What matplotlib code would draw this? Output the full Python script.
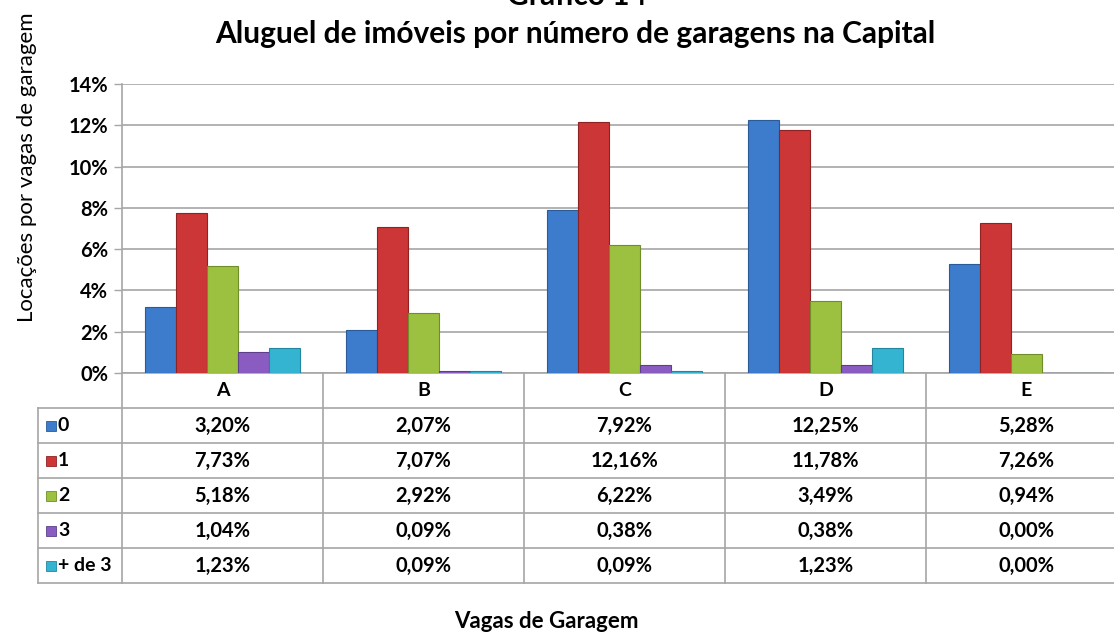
""" Grafico 14 - aluguel de imoveis por numero de garagens """

import matplotlib
matplotlib.use("Agg")
import matplotlib.pyplot as plt
import matplotlib.transforms as mtransforms
from matplotlib.patches import Rectangle
import numpy as np

plt.rcParams['font.family'] = ['Lato', 'DejaVu Sans']

regions = ["A", "B", "C", "D", "E"]
series  = ["0", "1", "2", "3", "+ de 3"]
vagas_0     = [3.20, 2.07, 7.92, 12.25, 5.28]
vagas_1     = [7.73, 7.07, 12.16, 11.78, 7.26]
vagas_2     = [5.18, 2.92, 6.22, 3.49, 0.94]
vagas_3     = [1.04, 0.09, 0.38, 0.38, 0.00]
vagas_mais3 = [1.23, 0.09, 0.09, 1.23, 0.00]
values = [vagas_0, vagas_1, vagas_2, vagas_3, vagas_mais3]
colors = ["#3d7ccc", "#cc3636", "#9cc140", "#8a5cc2", "#35b4d2"]
edges  = ["#2a5a99", "#8f2222", "#6f8e2a", "#5e3f8a", "#2386a0"]

W, H = 1114, 633
fig = plt.figure(figsize=(W / 100, H / 100), dpi=100)

# plot area in pixels (right side is cut off in the original)
left, right, top, bottom = 122, 1127, 84, 373
ax = fig.add_axes([left / W, 1 - bottom / H, (right - left) / W, (bottom - top) / H])

x = np.arange(len(regions))
bw = 0.154
for i, (vals, c, ec) in enumerate(zip(values, colors, edges)):
    offs = (i - 2) * bw
    ax.bar(x + offs, vals, width=bw, color=c, edgecolor=ec, linewidth=0.8, zorder=3)

ax.set_xlim(-0.5, len(regions) - 0.5)
ax.set_ylim(0, 14)
ax.set_yticks(range(0, 15, 2))
ax.set_yticklabels(["%d%%" % v for v in range(0, 15, 2)], fontsize=14.5, fontweight="bold")
ax.yaxis.grid(True, color="#a6a6a6", linewidth=1.2, zorder=0)
ax.tick_params(axis="y", length=6, color="#a6a6a6", width=1, pad=4)
ax.set_xticks([])
for s in ["top", "right", "bottom"]:
    ax.spines[s].set_visible(False)
ax.spines["left"].set_color("#a6a6a6")
ax.spines["left"].set_linewidth(1.2)

# data table below the axis
trans = mtransforms.blended_transform_factory(ax.transData, ax.transAxes)
ph = bottom - top
def fy(py):
    return -(py - bottom) / ph

leg_left = -0.5 - (left - 38) / 201.0
row_edges = [373, 408, 443, 478, 513, 548, 583]
line_kw = dict(color="#a6a6a6", linewidth=1.2, transform=trans, clip_on=False)

# horizontal lines
ax.plot([-0.5, 4.5], [fy(373), fy(373)], **line_kw)
for py in row_edges[1:]:
    ax.plot([leg_left, 4.5], [fy(py), fy(py)], **line_kw)
# vertical lines
for b in np.arange(-0.5, 4.6, 1.0):
    ax.plot([b, b], [fy(373), fy(583)], **line_kw)
ax.plot([leg_left, leg_left], [fy(408), fy(583)], **line_kw)

# header
for i, r in enumerate(regions):
    ax.text(i, fy((373 + 408) / 2), r, transform=trans, ha="center", va="center",
            fontsize=14, fontweight="bold", clip_on=False)

# rows
sq_w = 10 / 201.0
for j, (name, vals, c, ec) in enumerate(zip(series, values, colors, edges)):
    yc = fy((row_edges[j + 1] + row_edges[j + 2]) / 2)
    sx = leg_left + 8 / 201.0
    ax.add_patch(Rectangle((sx, yc - 5 / ph), sq_w, 10 / ph, transform=trans,
                           facecolor=c, edgecolor=ec, linewidth=0.6, clip_on=False))
    ax.text(sx + sq_w + 2 / 201.0, yc, name, transform=trans, ha="left", va="center",
            fontsize=14, fontweight="bold", clip_on=False)
    for i, v in enumerate(vals):
        ax.text(i, yc, ("%.2f%%" % v).replace(".", ","), transform=trans,
                ha="center", va="center", fontsize=14.5, fontweight="bold", clip_on=False)

# titles and labels
fig.text(577 / W, 1 - 5 / H, "Gráfico 14", ha="center", va="baseline",
         fontsize=21.5, fontweight="bold")
fig.text(575 / W, 1 - 34 / H, "Aluguel de imóveis por número de garagens na Capital",
         ha="center", va="center", fontsize=21.5, fontweight="bold")
fig.text(27 / W, 1 - 167 / H, "Locações por vagas de garagem", rotation=90,
         ha="center", va="center", fontsize=16)
fig.text(546 / W, 1 - 622 / H, "Vagas de Garagem", ha="center", va="center",
         fontsize=16, fontweight="bold")

fig.savefig("out.png", dpi=100)
